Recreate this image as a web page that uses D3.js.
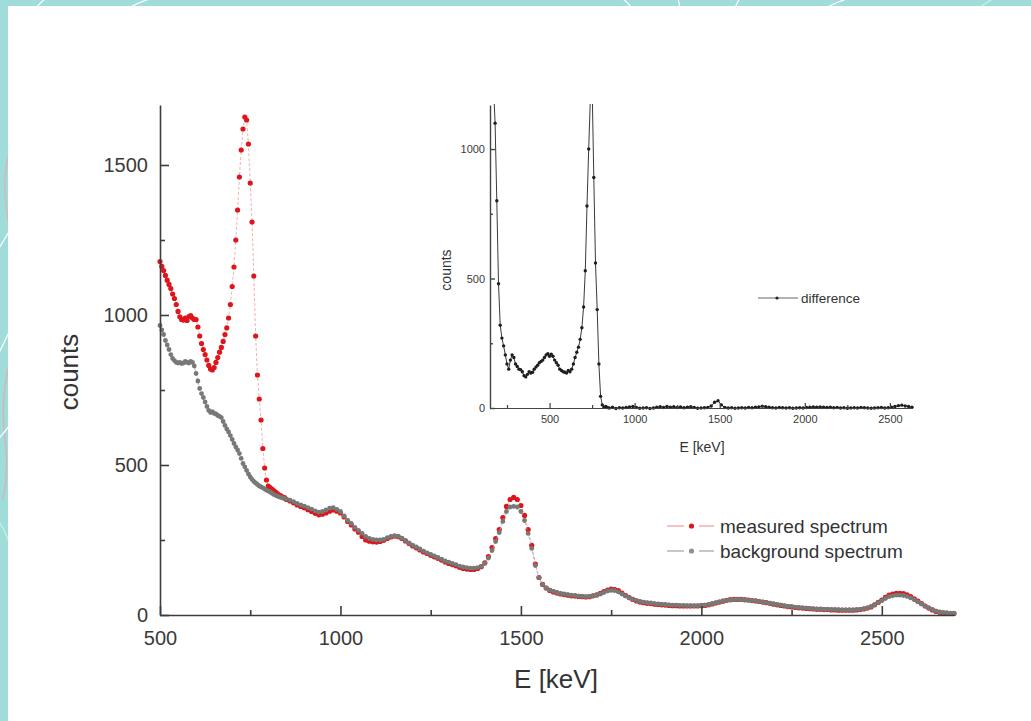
<!DOCTYPE html>
<html>
<head>
<meta charset="utf-8">
<script src="https://cdn.jsdelivr.net/npm/d3@7"></script>
<style>
  body { margin: 0; background: #fff; }
  svg { display: block; font-family: "Liberation Sans", Arial, Helvetica, sans-serif; }
</style>
</head>
<body>
<svg id="chart" width="1031" height="721"></svg>
<script>
// ---- spectrum channels: 5 keV steps below 850 keV, 10 keV steps above ----
const energyFine = d3.range(500, 850, 5);
const energyCoarse = d3.range(850, 2701, 10);

// measured spectrum, counts per channel
const measuredFine = [
  1178,1162,1148,1132,1116,1102,1088,1070,1055,1035,
  1012,994,985,983,990,982,995,998,990,985,
  985,960,930,905,885,868,850,832,820,817,
  825,842,858,876,892,912,935,957,990,1035,
  1095,1160,1250,1350,1460,1550,1620,1660,1650,1570,
  1440,1310,1130,930,800,720,650,555,490,450,
  430,425,420,415,410,405,400,397,393,391
];
const measuredCoarse = [
  385,380,374,367,362,357,351,345,339,334,
  336,340,346,350,346,340,327,312,300,287,
  276,262,250,246,244,243,245,249,255,260,
  263,261,255,247,238,230,224,217,210,205,
  199,194,189,183,177,172,168,164,159,155,
  153,152,152,155,161,174,195,225,255,285,
  325,362,385,392,385,365,332,285,232,170,
  125,102,90,82,77,73,70,68,66,64,
  63,62,61,60,61,64,67,72,78,83,
  86,85,81,73,65,58,52,47,43,41,
  39,38,36,35,34,33,32,31,31,30,
  30,30,30,30,30,31,32,34,37,40,
  43,46,49,51,52,52,52,51,50,48,
  47,45,43,41,39,36,34,32,30,28,
  27,25,24,23,22,21,20,19,19,18,
  18,17,17,16,16,16,16,16,17,18,
  20,23,27,34,42,50,59,66,70,72,
  72,71,67,61,54,46,38,30,23,17,
  12,9,7,6,5,5
];

// background spectrum, counts per channel
const backgroundFine = [
  965,950,935,915,900,885,868,855,848,842,
  840,842,838,840,845,842,840,845,842,830,
  805,780,755,738,725,710,695,682,675,678,
  672,670,665,662,658,645,632,620,610,598,
  585,572,560,550,538,522,505,494,482,470,
  460,452,445,440,435,430,427,424,420,416,
  413,410,406,402,399,396,394,392,390,388
];
const backgroundCoarse = [
  387,383,378,372,367,363,358,353,347,343,
  345,350,356,358,352,345,330,315,305,292,
  282,272,262,255,252,250,250,252,258,262,
  264,262,256,248,240,233,227,220,213,207,
  202,197,192,186,180,176,172,168,163,160,
  158,156,156,158,162,172,190,215,245,275,
  312,345,360,362,360,345,315,272,222,165,
  124,102,90,83,79,75,72,70,68,66,
  65,63,62,61,62,64,66,70,75,80,
  82,81,77,70,63,57,52,48,45,43,
  41,40,38,37,36,35,34,33,33,32,
  32,31,31,31,31,32,33,35,38,41,
  44,47,49,50,51,52,51,50,49,48,
  47,45,43,41,39,37,35,33,31,29,
  28,26,25,24,23,22,21,20,20,19,
  19,18,18,18,17,17,17,17,18,19,
  21,24,28,34,41,48,55,61,64,66,
  66,65,62,57,51,44,37,30,24,18,
  13,10,8,7,6,6
];

// difference spectrum (inset)
const diffLowEnergy = d3.range(150, 850, 10);
const diffLow = [
  1300,1300,1250,1100,800,480,320,270,240,205,
  170,150,185,205,195,170,160,150,148,140,
  125,120,130,140,135,138,150,158,165,175,
  180,185,195,205,210,200,208,200,185,175,
  165,150,145,140,138,135,145,140,150,170,
  195,215,235,265,310,390,530,780,1000,1200,
  1250,890,560,380,170,45,12,3,6,2
];
const diffHighEnergy = d3.range(850, 2631, 20);
const diffHigh = [
  0,3,-2,1,0,2,4,6,2,-1,
  0,1,-2,0,3,5,2,6,3,5,
  2,4,1,3,5,2,-1,0,1,2,
  8,22,28,12,2,0,1,-1,0,1,
  0,2,1,3,4,7,5,3,1,0,
  2,1,0,1,-1,0,1,0,2,3,
  4,3,4,3,2,3,1,2,0,1,
  -1,0,1,0,2,1,0,-1,0,1,
  2,0,1,3,6,9,11,8,6,3
];

// tick values
const mainXTicks = [500, 1000, 1500, 2000, 2500];
const mainXMinor = [750, 1250, 1750, 2250];
const mainYTicks = [0, 500, 1000, 1500];
const mainYMinor = [250, 750, 1250];
const insetXTicks = [500, 1000, 1500, 2000, 2500];
const insetXMinor = [250, 750, 1250, 1750, 2250];
const insetYTicks = [0, 500, 1000];
const insetYMinor = [250, 750];

const seriesLabels = ["measured spectrum", "background spectrum"];

// ---- assemble point lists ----
const energies = energyFine.concat(energyCoarse);
const measured = energies.map((e, i) => ({ e, c: measuredFine.concat(measuredCoarse)[i] }));
const background = energies.map((e, i) => ({ e, c: backgroundFine.concat(backgroundCoarse)[i] }));
const difference = diffLowEnergy.map((e, i) => ({ e, c: diffLow[i] }))
  .concat(diffHighEnergy.map((e, i) => ({ e, c: diffHigh[i] })));

const W = 1031, H = 721;
const svg = d3.select("#chart");

// ---- page frame ----
svg.append("rect").attr("width", W).attr("height", H).attr("fill", "#9fdcda");
const deco = svg.append("g").attr("fill", "none").attr("stroke-width", 1.2);
[
  ["M36,8 Q40,3 46,-2", "#ffffff"],
  ["M128,8 Q140,2 152,-2", "#ffffff"],
  ["M622,-2 Q628,3 632,8", "#ffffff"],
  ["M678,-2 Q679,3 680,8", "#ffffff"],
  ["M735,8 Q737,3 740,-2", "#ffffff"],
  ["M826,8 Q836,2 850,-2", "#ffffff"],
  ["M980,8 Q986,2 995,-2", "#c9f5dc"],
  ["M10,150 Q2,175 6,205 Q9,225 10,240", "#e0b2b2"],
  ["M10,230 Q4,240 -2,250", "#ffffff"],
  ["M10,330 Q3,345 -2,355", "#ffffff"],
  ["M10,360 Q0,400 5,440 Q9,470 3,500", "#d8b0b0"],
  ["M10,425 Q4,432 -2,440", "#ffffff"],
  ["M-2,520 Q5,530 10,545", "#c9f5dc"]
].forEach(([d, c]) => deco.append("path").attr("d", d).attr("stroke", c));
svg.append("rect").attr("x", 8).attr("y", 6).attr("width", W - 8).attr("height", H - 6).attr("fill", "#ffffff");

// ---- main plot ----
const x = d3.scaleLinear().domain([500, 2700]).range([160, 954]);
const y = d3.scaleLinear().domain([0, 1700]).range([615, 105]);
const line = d3.line().x(d => x(d.e)).y(d => y(d.c));

const plot = svg.append("g");
plot.append("path").datum(measured).attr("d", line)
  .attr("fill", "none").attr("stroke", "#f29a9a").attr("stroke-width", 0.8).attr("stroke-dasharray", "3,2");
plot.append("g").selectAll("circle").data(measured).join("circle")
  .attr("cx", d => x(d.e)).attr("cy", d => y(d.c)).attr("r", 2.6).attr("fill", "#df151b");
plot.append("path").datum(background).attr("d", line)
  .attr("fill", "none").attr("stroke", "#a8a8a8").attr("stroke-width", 0.8).attr("stroke-dasharray", "3,2");
plot.append("g").selectAll("circle").data(background).join("circle")
  .attr("cx", d => x(d.e)).attr("cy", d => y(d.c)).attr("r", 2.4).attr("fill", "#767976");

function styleAxis(g, width, color, fontSize) {
  g.select(".domain").attr("stroke", color).attr("stroke-width", width);
  g.selectAll(".tick line").attr("stroke", color).attr("stroke-width", width);
  g.selectAll(".tick text").attr("fill", "#3a3a3a").attr("font-size", fontSize)
    .attr("font-family", "\"Liberation Sans\", Arial, sans-serif");
}

const gx = svg.append("g").attr("transform", "translate(0,615)")
  .call(d3.axisBottom(x).tickValues(mainXTicks).tickSize(-9).tickSizeOuter(0).tickPadding(16).tickFormat(d3.format("d")));
styleAxis(gx, 1.6, "#3c3c3c", 20);
const gxm = svg.append("g").attr("transform", "translate(0,615)")
  .call(d3.axisBottom(x).tickValues(mainXMinor).tickSize(-5).tickFormat(""));
gxm.select(".domain").remove();
styleAxis(gxm, 1.6, "#3c3c3c", 20);

const gy = svg.append("g").attr("transform", "translate(160,0)")
  .call(d3.axisLeft(y).tickValues(mainYTicks).tickSize(-9).tickSizeOuter(0).tickPadding(12).tickFormat(d3.format("d")));
styleAxis(gy, 1.6, "#3c3c3c", 20);
const gym = svg.append("g").attr("transform", "translate(160,0)")
  .call(d3.axisLeft(y).tickValues(mainYMinor).tickSize(-5).tickFormat(""));
gym.select(".domain").remove();
styleAxis(gym, 1.6, "#3c3c3c", 20);

svg.append("text").attr("x", 556).attr("y", 688).attr("text-anchor", "middle")
  .attr("font-size", 26).attr("fill", "#333").text("E [keV]");
svg.append("text").attr("transform", "translate(78,372) rotate(-90)").attr("text-anchor", "middle")
  .attr("font-size", 26).attr("fill", "#333").text("counts");

// legend
const legendRows = [
  { label: seriesLabels[0], y: 526, line: "#f4a6a6", dot: "#df151b" },
  { label: seriesLabels[1], y: 551, line: "#b0b0b0", dot: "#889788" }
];
const leg = svg.append("g");
legendRows.forEach(r => {
  leg.append("line").attr("x1", 667).attr("x2", 684).attr("y1", r.y).attr("y2", r.y)
    .attr("stroke", r.line).attr("stroke-width", 1.4);
  leg.append("line").attr("x1", 699).attr("x2", 714).attr("y1", r.y).attr("y2", r.y)
    .attr("stroke", r.line).attr("stroke-width", 1.4);
  leg.append("circle").attr("cx", 691.5).attr("cy", r.y).attr("r", 2.6).attr("fill", r.dot);
  leg.append("text").attr("x", 720).attr("y", r.y).attr("dy", "0.36em")
    .attr("font-size", 19).attr("fill", "#333").text(r.label);
});

// ---- inset: difference spectrum ----
const xi = d3.scaleLinear().domain([150, 2630]).range([490, 912]);
const yi = d3.scaleLinear().domain([0, 1170]).range([408, 105]);
const lineI = d3.line().x(d => xi(d.e)).y(d => yi(d.c));

svg.append("clipPath").attr("id", "insetClip")
  .append("rect").attr("x", 487).attr("y", 104).attr("width", 428).attr("height", 307);
const inset = svg.append("g").attr("clip-path", "url(#insetClip)");
inset.append("path").datum(difference).attr("d", lineI)
  .attr("fill", "none").attr("stroke", "#3a3a3a").attr("stroke-width", 1);
inset.append("g").selectAll("circle").data(difference).join("circle")
  .attr("cx", d => xi(d.e)).attr("cy", d => yi(d.c)).attr("r", 1.7).attr("fill", "#1e1e1e");

const gxi = svg.append("g").attr("transform", "translate(0,408)")
  .call(d3.axisBottom(xi).tickValues(insetXTicks).tickSize(-5).tickSizeOuter(0).tickPadding(7).tickFormat(d3.format("d")));
styleAxis(gxi, 1.2, "#444", 11);
const gxim = svg.append("g").attr("transform", "translate(0,408)")
  .call(d3.axisBottom(xi).tickValues(insetXMinor).tickSize(-3).tickFormat(""));
gxim.select(".domain").remove();
styleAxis(gxim, 1.2, "#444", 11);

const gyi = svg.append("g").attr("transform", "translate(490,0)")
  .call(d3.axisLeft(yi).tickValues(insetYTicks).tickSize(-5).tickSizeOuter(0).tickPadding(5).tickFormat(d3.format("d")));
styleAxis(gyi, 1.4, "#444", 11);
const gyim = svg.append("g").attr("transform", "translate(490,0)")
  .call(d3.axisLeft(yi).tickValues(insetYMinor).tickSize(-3).tickFormat(""));
gyim.select(".domain").remove();
styleAxis(gyim, 1.4, "#444", 11);

svg.append("text").attr("x", 702).attr("y", 452).attr("text-anchor", "middle")
  .attr("font-size", 14).attr("fill", "#333").text("E [keV]");
svg.append("text").attr("transform", "translate(451,270) rotate(-90)").attr("text-anchor", "middle")
  .attr("font-size", 14).attr("fill", "#333").text("counts");

// inset legend
svg.append("line").attr("x1", 758).attr("x2", 798).attr("y1", 298).attr("y2", 298)
  .attr("stroke", "#666").attr("stroke-width", 1);
svg.append("circle").attr("cx", 777).attr("cy", 298).attr("r", 1.6).attr("fill", "#222");
svg.append("text").attr("x", 801).attr("y", 298).attr("dy", "0.35em")
  .attr("font-size", 13.5).attr("fill", "#333").text("difference");
</script>
</body>
</html>
